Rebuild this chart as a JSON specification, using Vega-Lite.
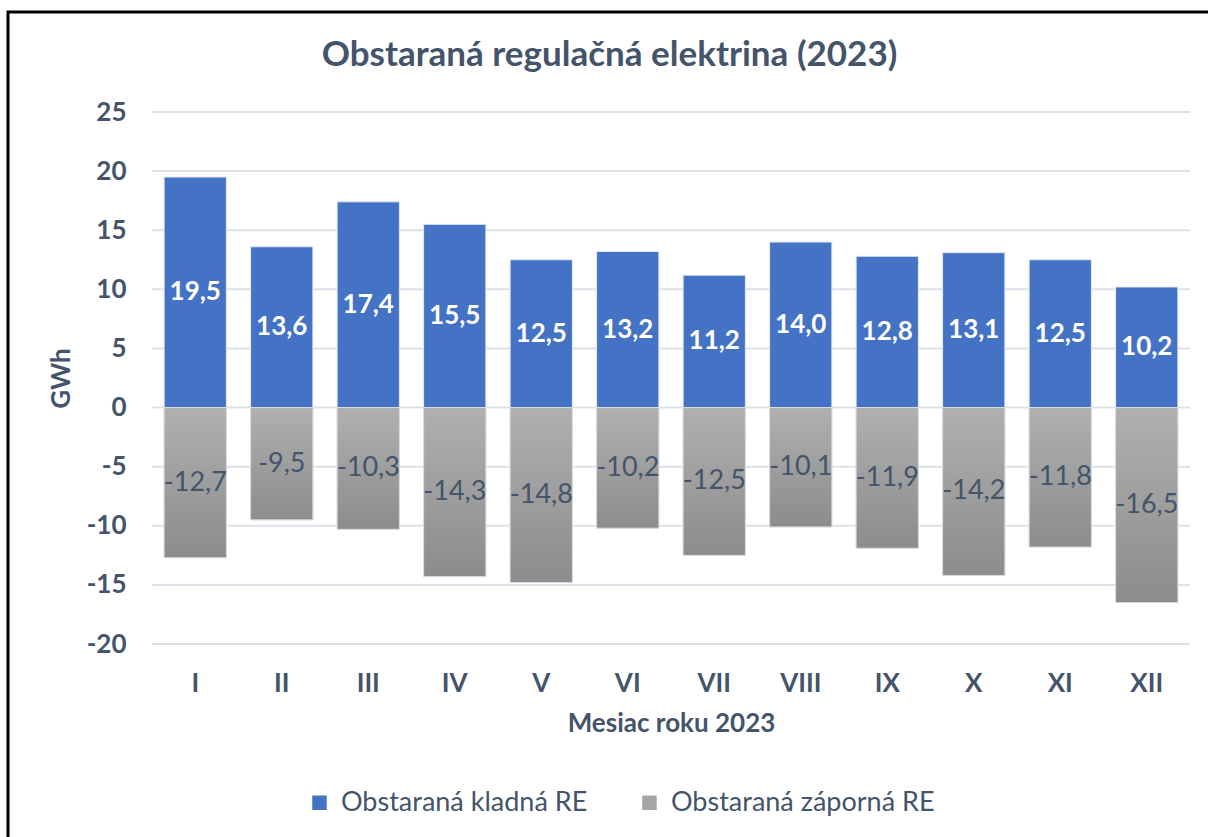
{
  "$schema": "https://vega.github.io/schema/vega-lite/v6.json",
  "width": 1203,
  "height": 828,
  "autosize": "none",
  "padding": {"left": 8, "top": 12, "right": 0, "bottom": 0},
  "background": "white",
  "config": {
    "view": {"stroke": "#000000", "strokeWidth": 3},
    "locale": {"number": {"decimal": ",", "thousands": " ", "grouping": [3], "currency": ["", " €"], "minus": "-"}},
    "font": "Lato"
  },
  "title": {
    "text": "Obstaraná regulačná elektrina (2023)",
    "font": "Lato",
    "fontSize": 35,
    "fontWeight": "bold",
    "color": "#44546A",
    "anchor": "middle",
    "baseline": "alphabetic",
    "offset": -89
  },
  "datasets": {
    "re": [
      {"month": "I", "series": "Obstaraná kladná RE", "v": 19.5},
      {"month": "II", "series": "Obstaraná kladná RE", "v": 13.6},
      {"month": "III", "series": "Obstaraná kladná RE", "v": 17.4},
      {"month": "IV", "series": "Obstaraná kladná RE", "v": 15.5},
      {"month": "V", "series": "Obstaraná kladná RE", "v": 12.5},
      {"month": "VI", "series": "Obstaraná kladná RE", "v": 13.2},
      {"month": "VII", "series": "Obstaraná kladná RE", "v": 11.2},
      {"month": "VIII", "series": "Obstaraná kladná RE", "v": 14.0},
      {"month": "IX", "series": "Obstaraná kladná RE", "v": 12.8},
      {"month": "X", "series": "Obstaraná kladná RE", "v": 13.1},
      {"month": "XI", "series": "Obstaraná kladná RE", "v": 12.5},
      {"month": "XII", "series": "Obstaraná kladná RE", "v": 10.2},
      {"month": "I", "series": "Obstaraná záporná RE", "v": -12.7},
      {"month": "II", "series": "Obstaraná záporná RE", "v": -9.5},
      {"month": "III", "series": "Obstaraná záporná RE", "v": -10.3},
      {"month": "IV", "series": "Obstaraná záporná RE", "v": -14.3},
      {"month": "V", "series": "Obstaraná záporná RE", "v": -14.8},
      {"month": "VI", "series": "Obstaraná záporná RE", "v": -10.2},
      {"month": "VII", "series": "Obstaraná záporná RE", "v": -12.5},
      {"month": "VIII", "series": "Obstaraná záporná RE", "v": -10.1},
      {"month": "IX", "series": "Obstaraná záporná RE", "v": -11.9},
      {"month": "X", "series": "Obstaraná záporná RE", "v": -14.2},
      {"month": "XI", "series": "Obstaraná záporná RE", "v": -11.8},
      {"month": "XII", "series": "Obstaraná záporná RE", "v": -16.5}
    ],
    "grid": [
      {"g": -20}, {"g": -15}, {"g": -10}, {"g": -5}, {"g": 0},
      {"g": 5}, {"g": 10}, {"g": 15}, {"g": 20}, {"g": 25}
    ]
  },
  "layer": [
    {
      "data": {"name": "grid"},
      "mark": {"type": "rule", "color": "#DDE2EA", "strokeWidth": 2},
      "encoding": {
        "y": {"field": "g", "type": "quantitative", "scale": {"domain": [-20, 25], "range": [632, 100], "nice": false, "zero": false}, "axis": null},
        "x": {"datum": 0, "type": "quantitative", "scale": {"domain": [0, 1], "range": [144, 1182], "nice": false, "zero": false}, "axis": null},
        "x2": {"datum": 1}
      }
    },
    {
      "data": {"name": "re"},
      "mark": {"type": "bar", "stroke": "#e4e8f0", "strokeWidth": 1},
      "encoding": {
        "x": {
          "field": "month", "type": "nominal",
          "sort": ["I", "II", "III", "IV", "V", "VI", "VII", "VIII", "IX", "X", "XI", "XII"],
          "scale": {"range": [144, 1182], "paddingInner": 0.28, "paddingOuter": 0.14},
          "axis": {
            "title": "Mesiac roku 2023", "orient": "bottom", "offset": -196,
            "domain": false, "ticks": false, "grid": false, "labelAngle": 0,
            "labelFont": "Lato", "labelFontSize": 26, "labelFontWeight": "bold", "labelColor": "#44546A",
            "labelPadding": 26,
            "titleFont": "Lato", "titleFontSize": 26, "titleFontWeight": "bold", "titleColor": "#44546A",
            "titlePadding": 14
          }
        },
        "y": {
          "field": "v", "type": "quantitative",
          "scale": {"domain": [-20, 25], "range": [632, 100], "nice": false, "zero": false},
          "axis": {
            "title": "GWh", "orient": "left", "offset": -132,
            "values": [-20, -15, -10, -5, 0, 5, 10, 15, 20, 25],
            "domain": false, "ticks": false, "grid": false, "format": "d",
            "labelFont": "Lato", "labelFontSize": 26, "labelFontWeight": "bold", "labelColor": "#44546A",
            "labelPadding": 14,
            "titleFont": "Lato", "titleFontSize": 26, "titleFontWeight": "bold", "titleColor": "#44546A",
            "titlePadding": 12
          }
        },
        "color": {
          "field": "series", "type": "nominal",
          "scale": {"domain": ["Obstaraná kladná RE", "Obstaraná záporná RE"], "range": ["#4472C4", "#A5A5A5"]},
          "legend": {
            "title": null, "orient": "none", "legendX": 298, "legendY": 777,
            "direction": "horizontal", "symbolType": "square", "symbolSize": 210,
            "symbolStrokeWidth": 0, "labelFont": "Lato", "labelFontSize": 27, "labelColor": "#44546A",
            "labelOffset": 8, "labelLimit": 0, "columnPadding": 48, "padding": 0
          }
        }
      }
    },
    {
      "data": {"name": "re"},
      "transform": [{"filter": "datum.v < 0"}],
      "mark": {
        "type": "bar",
        "stroke": "#dcdcdc", "strokeWidth": 1,
        "fill": {
          "gradient": "linear", "x1": 0, "y1": 0, "x2": 0, "y2": 1,
          "stops": [{"offset": 0, "color": "#B0B0B0"}, {"offset": 1, "color": "#8C8C8C"}]
        }
      },
      "encoding": {
        "x": {
          "field": "month", "type": "nominal",
          "scale": {"domain": ["I", "II", "III", "IV", "V", "VI", "VII", "VIII", "IX", "X", "XI", "XII"], "range": [144, 1182], "paddingInner": 0.28, "paddingOuter": 0.14},
          "axis": null
        },
        "y": {"field": "v", "type": "quantitative", "scale": {"domain": [-20, 25], "range": [632, 100], "nice": false, "zero": false}, "axis": null}
      }
    },
    {
      "data": {"name": "re"},
      "transform": [{"filter": "datum.v > 0"}],
      "mark": {"type": "text", "font": "Lato", "fontSize": 26, "fontWeight": "bold", "color": "white", "baseline": "middle"},
      "encoding": {
        "x": {
          "field": "month", "type": "nominal",
          "scale": {"domain": ["I", "II", "III", "IV", "V", "VI", "VII", "VIII", "IX", "X", "XI", "XII"], "range": [144, 1182], "paddingInner": 0.28, "paddingOuter": 0.14},
          "axis": null
        },
        "y": {"field": "v", "type": "quantitative", "scale": {"domain": [-40, 50], "range": [632, 100], "nice": false, "zero": false}, "axis": null},
        "text": {"field": "v", "type": "quantitative", "format": ".1f"}
      }
    },
    {
      "data": {"name": "re"},
      "transform": [{"filter": "datum.v < 0"}],
      "mark": {"type": "text", "font": "Lato", "fontSize": 27, "color": "#44546A", "baseline": "middle"},
      "encoding": {
        "x": {
          "field": "month", "type": "nominal",
          "scale": {"domain": ["I", "II", "III", "IV", "V", "VI", "VII", "VIII", "IX", "X", "XI", "XII"], "range": [144, 1182], "paddingInner": 0.28, "paddingOuter": 0.14},
          "axis": null
        },
        "y": {"field": "v", "type": "quantitative", "scale": {"domain": [-40, 50], "range": [632, 100], "nice": false, "zero": false}, "axis": null},
        "text": {"field": "v", "type": "quantitative", "format": ".1f"}
      }
    }
  ],
  "resolve": {"scale": {"x": "independent", "y": "independent"}}
}
